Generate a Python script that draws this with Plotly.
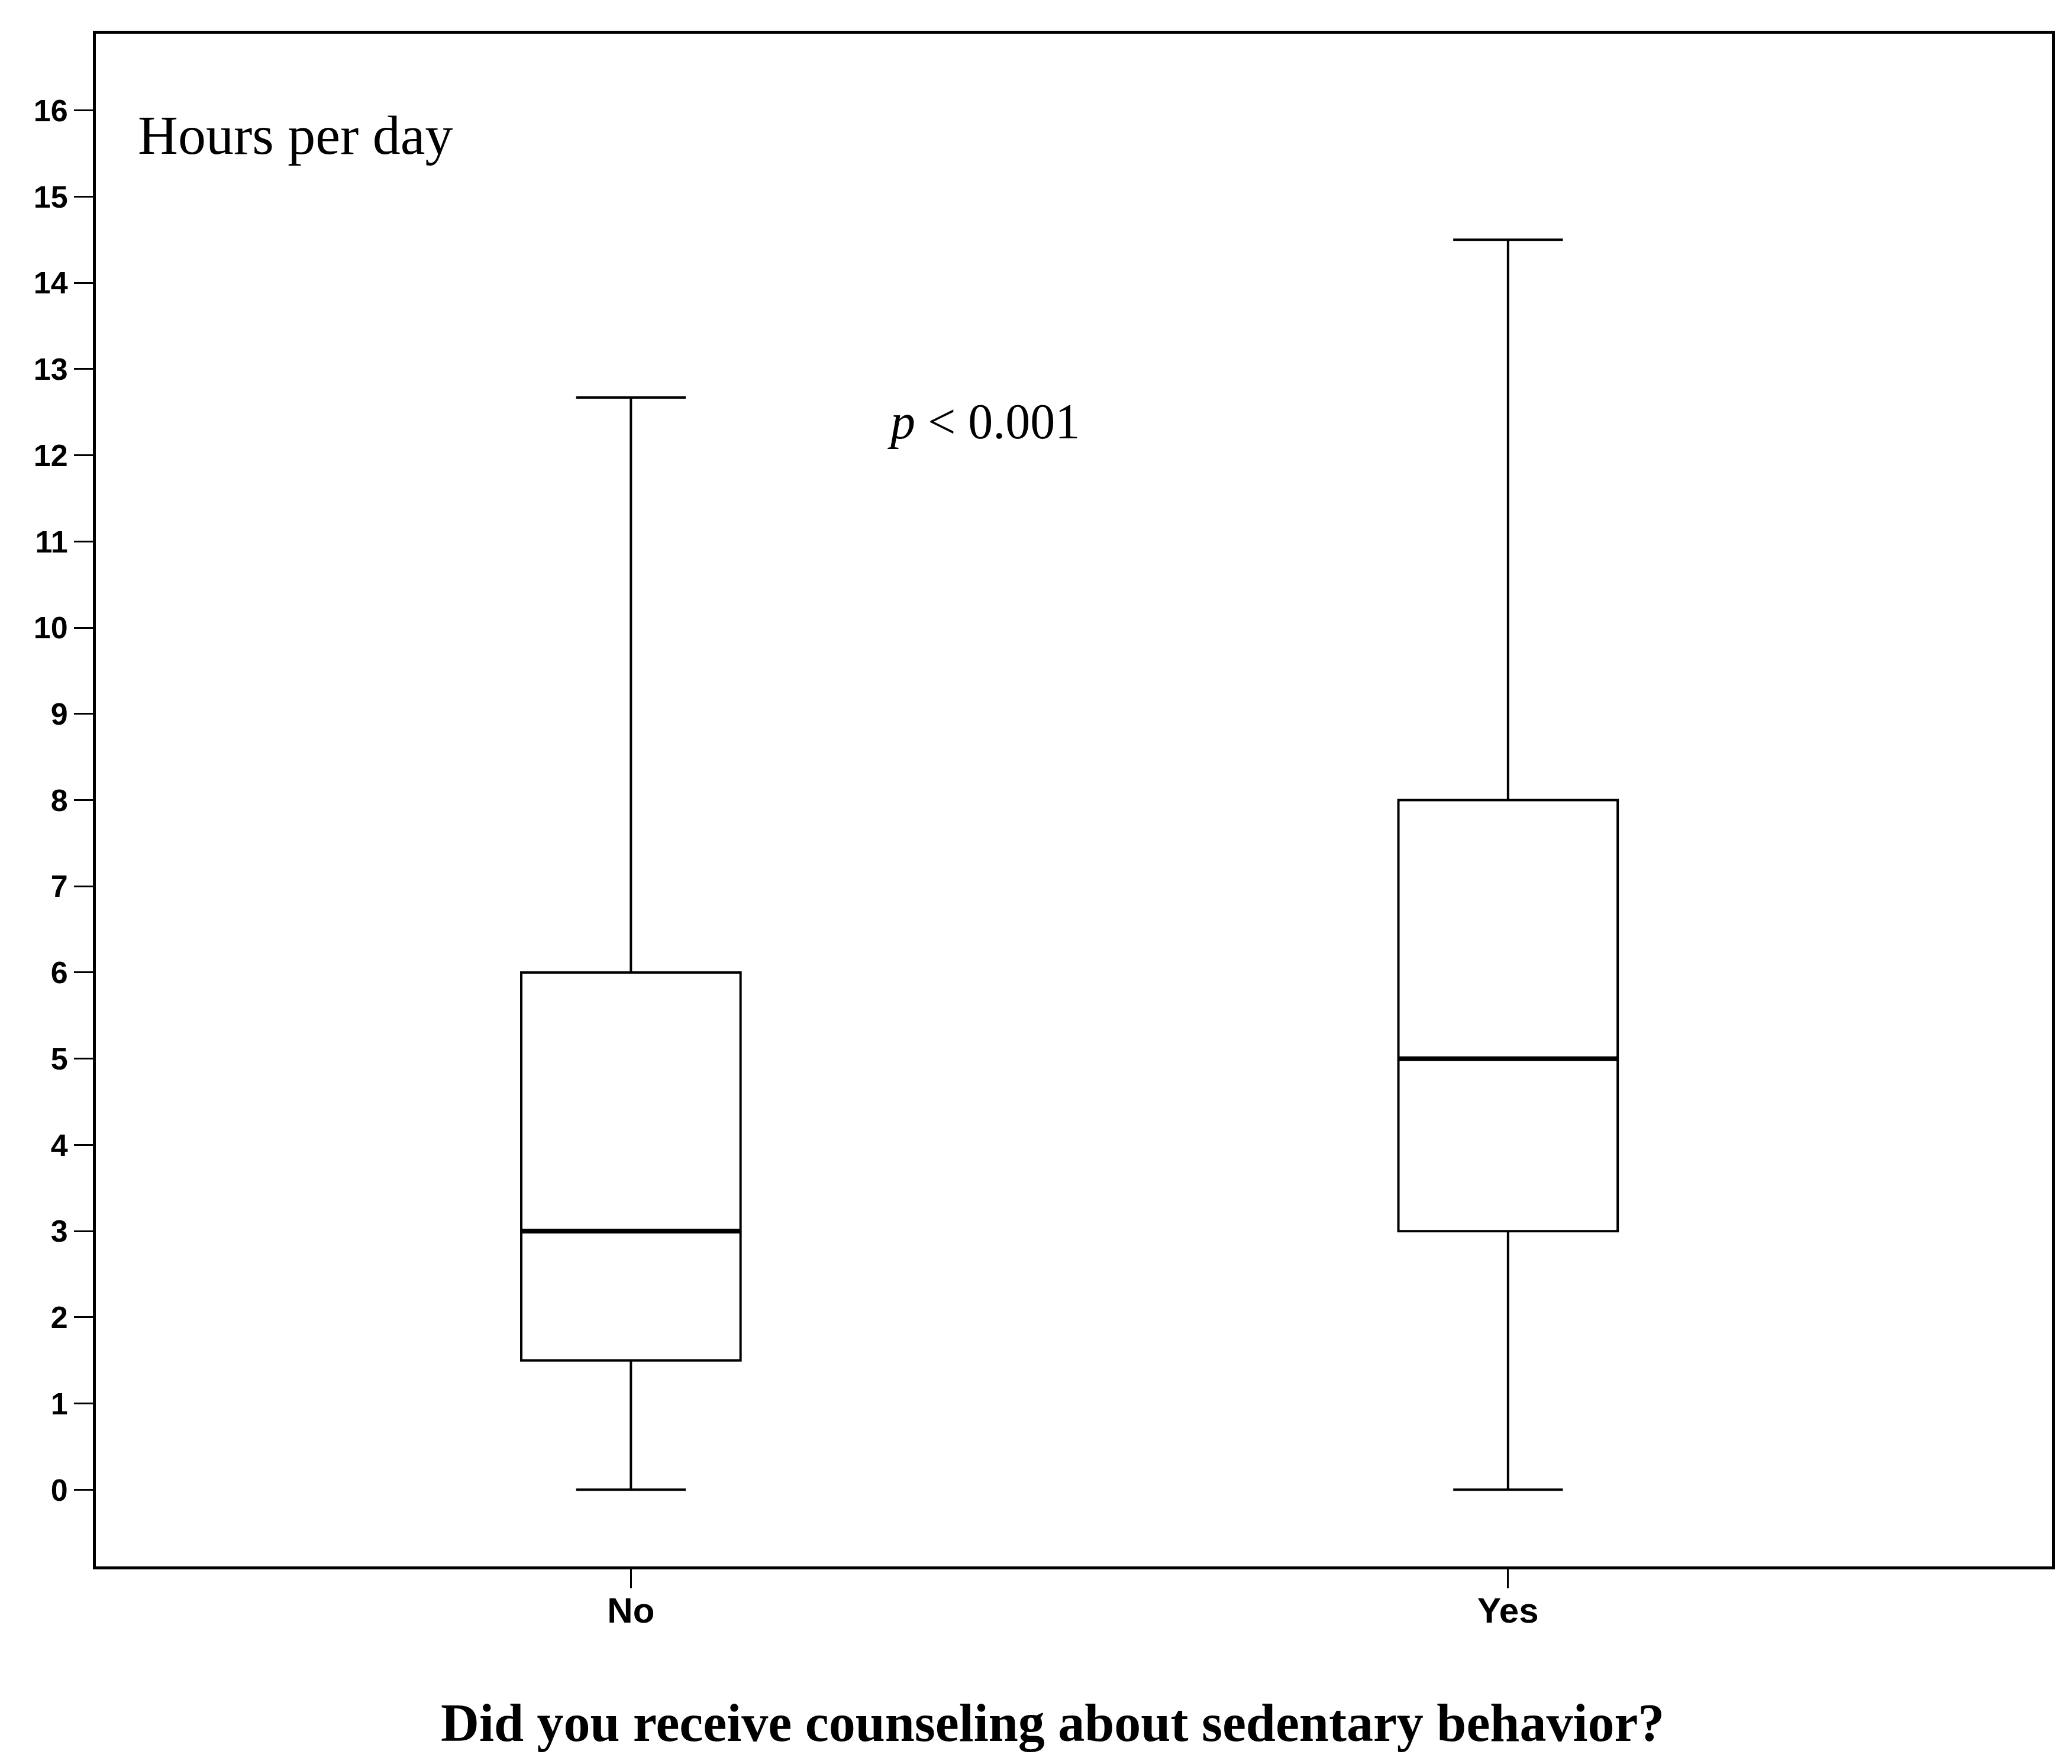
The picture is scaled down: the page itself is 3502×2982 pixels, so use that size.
import plotly.graph_objects as go

categories = ["No", "Yes"]
positions = [0, 1]
q1_vals = [1.5, 3.0]
median_vals = [3.0, 5.0]
q3_vals = [6.0, 8.0]
lower_vals = [0.0, 0.0]
upper_vals = [12.67, 14.5]
y_ticks = list(range(0, 17))

BOX_W = 0.25

fig = go.Figure()
for i, cat in enumerate(categories):
    fig.add_trace(go.Box(
        x=[positions[i]], q1=[q1_vals[i]], median=[median_vals[i]], q3=[q3_vals[i]],
        lowerfence=[lower_vals[i]], upperfence=[upper_vals[i]],
        width=BOX_W, whiskerwidth=0.5, fillcolor="white",
        line=dict(color="black", width=4), boxpoints=False, showlegend=False,
        name=cat, hoverinfo="skip",
    ))
    fig.add_trace(go.Scatter(
        x=[positions[i] - BOX_W / 2, positions[i] + BOX_W / 2],
        y=[median_vals[i], median_vals[i]],
        mode="lines", line=dict(color="black", width=8), showlegend=False,
        hoverinfo="skip",
    ))

fig.update_layout(
    width=3502, height=2982,
    margin=dict(l=154, r=42, t=49, b=342),
    paper_bgcolor="white", plot_bgcolor="white",
    xaxis=dict(
        range=[-0.61, 1.62], tickvals=positions, ticktext=categories,
        showline=True, linecolor="black", linewidth=5, mirror=True,
        ticks="outside", ticklen=32, tickwidth=3, tickcolor="black",
        ticklabelstandoff=-14,
        showgrid=False, zeroline=False,
        tickfont=dict(family="Liberation Sans", size=60, color="black", weight="bold"),
    ),
    yaxis=dict(
        range=[-0.89, 16.89], tickvals=y_ticks,
        showline=True, linecolor="black", linewidth=5, mirror=True,
        ticks="outside", ticklen=32, tickwidth=3, tickcolor="black",
        showgrid=False, zeroline=False,
        tickfont=dict(family="Liberation Sans", size=52, color="black", weight="bold"),
    ),
    annotations=[
        dict(text="Hours per day", xref="paper", yref="paper", x=0.021, y=0.934,
             xanchor="left", yanchor="middle", showarrow=False,
             font=dict(family="Liberation Serif", size=94, color="black")),
        dict(text="<i>p</i> < 0.001", xref="paper", yref="paper", x=0.454, y=0.747,
             xanchor="center", yanchor="middle", showarrow=False,
             font=dict(family="Liberation Serif", size=84, color="black")),
        dict(text="<b>Did you receive counseling about sedentary behavior?</b>",
             xref="paper", yref="paper", x=0.489, y=-0.102,
             xanchor="center", yanchor="middle", showarrow=False,
             font=dict(family="Liberation Serif", size=90, color="black")),
    ],
)

fig.write_html("out.html")
